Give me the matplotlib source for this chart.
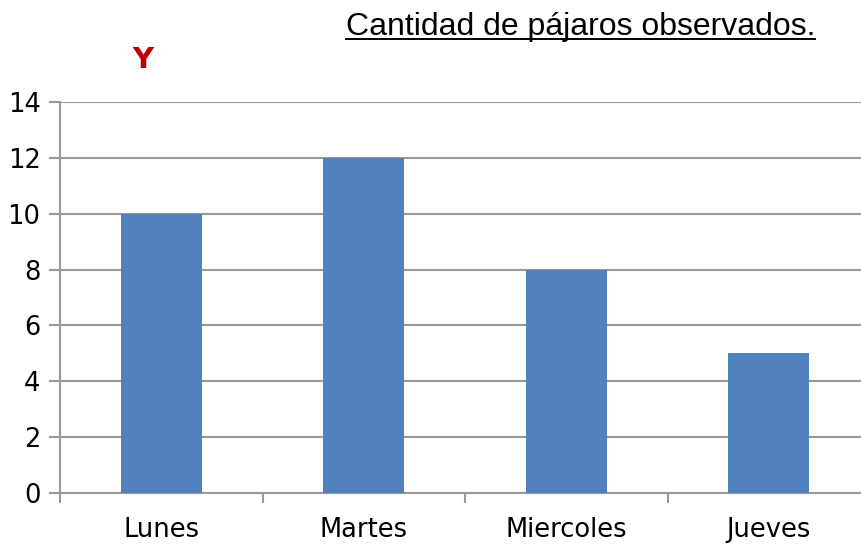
import matplotlib.pyplot as plt
from matplotlib.lines import Line2D

dias = ["Lunes", "Martes", "Miercoles", "Jueves"]
pajaros = [10, 12, 8, 5]
y_ticks = [0, 2, 4, 6, 8, 10, 12, 14]

grid_col = "#999999"

fig = plt.figure(figsize=(8.61, 5.44), dpi=100)
# the plot area runs a bit past the right edge, like the original
ax = fig.add_axes([60/861, 51/544, 810/861, 391/544])

x = range(len(dias))
ax.bar(x, pajaros, width=0.40, color="#4F81BD", zorder=3)

ax.set_xlim(-0.5, len(dias) - 0.5)
ax.set_ylim(0, 14)
ax.set_yticks(y_ticks)
ax.set_yticklabels([str(v) for v in y_ticks], fontsize=18.5)
ax.yaxis.grid(True, color=grid_col, linewidth=1.5, zorder=0)

# category labels in the middle, tick marks on the borders
ax.set_xticks(list(x))
ax.set_xticklabels(dias, fontsize=18.5)
ax.tick_params(axis="x", length=0, pad=17)
ax.set_xticks([i - 0.5 for i in range(len(dias) + 1)], minor=True)
ax.tick_params(axis="x", which="minor", length=7.5, width=1.5, color=grid_col, direction="out")
ax.tick_params(axis="y", length=8, width=1.5, color=grid_col, direction="out", pad=6)

for s in ["top", "right"]:
    ax.spines[s].set_visible(False)
for s in ["left", "bottom"]:
    ax.spines[s].set_color(grid_col)
    ax.spines[s].set_linewidth(1.5)

fig.text(143/861, 1 - 60/544, "Y", color="#C00000", fontsize=21, fontweight="bold",
         ha="center", va="center")

titulo = fig.text(815/861, 1 - 35/544, "Cantidad de pájaros observados.",
                  fontsize=23, family="Liberation Sans", ha="right", va="baseline")

# underline the title
fig.canvas.draw()
bb = titulo.get_window_extent().transformed(fig.transFigure.inverted())
yl = 1 - 39/544
fig.add_artist(Line2D([bb.x0, bb.x1], [yl, yl], transform=fig.transFigure,
                      color="black", linewidth=1.4))

fig.savefig("out.png", dpi=100)
